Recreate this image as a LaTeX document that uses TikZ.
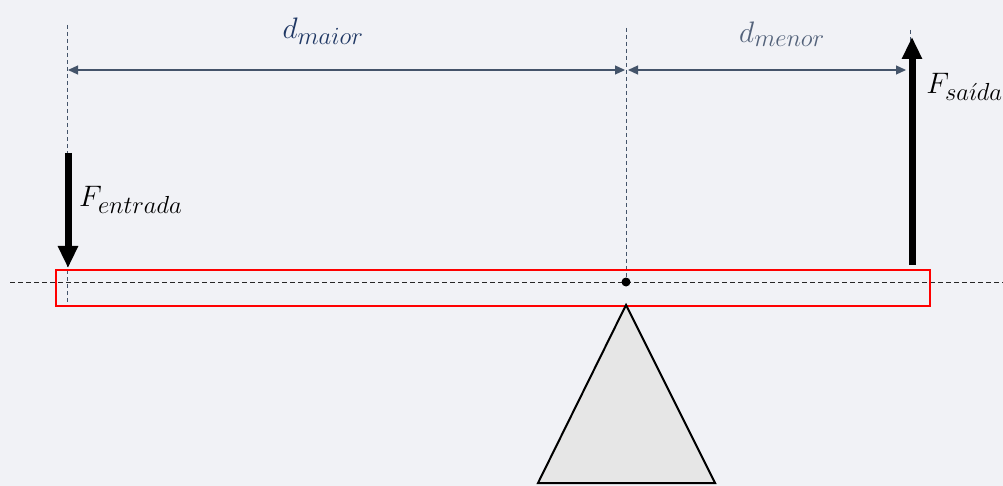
\documentclass[tikz,border=0pt]{standalone}
\usetikzlibrary{arrows.meta}
\definecolor{bg}{HTML}{F1F2F6}
\definecolor{dimc}{HTML}{44546A}
\definecolor{lblA}{HTML}{203864}
\definecolor{lblB}{HTML}{53627A}
\definecolor{beamred}{HTML}{FF0000}
\definecolor{baseg}{HTML}{E6E6E6}
\tikzset{
  guide/.style={dash pattern=on 4pt off 3pt, line width=0.8pt, draw=dimc},
  axisline/.style={dash pattern=on 5pt off 3pt, line width=0.9pt, draw=black!85},
  dimarrow/.style={{Triangle[length=10pt,width=9pt]}-{Triangle[length=10pt,width=9pt]}, line width=1.2pt, draw=dimc},
  force/.style={-{Triangle[length=22pt,width=19pt]}, line width=7pt, draw=black},
  lbl/.style={inner sep=0pt, font=\Huge, scale=1.19, transform shape}
}
\begin{document}
\begin{tikzpicture}[x=1pt,y=-1pt]
\fill[bg] (0,0) rectangle (1003,486);
\useasboundingbox (0,0) rectangle (1003,486);
% guide lines
\coordinate (gL1) at (67,25); \coordinate (gL2) at (67,302);
\coordinate (gM1) at (626,28); \coordinate (gM2) at (626,282);
\coordinate (gR1) at (910,30); \coordinate (gR2) at (910,60);
\draw[guide] (gL1) -- (gL2);
\draw[guide] (gM1) -- (gM2);
\draw[guide] (gR1) -- (gR2);
% axis
\coordinate (aL) at (10,282); \coordinate (aR) at (1003,282);
\draw[axisline] (aL) -- (aR);
% beam
\node[draw=beamred, line width=2pt, minimum width=874pt, minimum height=36pt, inner sep=0pt, anchor=north west] (beam) at (55,269) {};
% pivot dot
\node[circle, fill=black, minimum size=9pt, inner sep=0pt] (pivot) at (626,282) {};
% fulcrum
\coordinate (apex) at (626,305);
\coordinate (bl) at (538,483);
\coordinate (br) at (715,483);
\draw[fill=baseg, line width=2pt, line join=miter] (apex) -- (br) -- (bl) -- cycle;
% dimension arrows
\coordinate (dA1) at (68,70); \coordinate (dA2) at (625,70);
\coordinate (dB1) at (628,70); \coordinate (dB2) at (906,70);
\draw[dimarrow] (dA1) -- (dA2);
\draw[dimarrow] (dB1) -- (dB2);
\node[lbl, text=lblA] (dmaior) at (323,31) {$d_{maior}$};
\node[lbl, text=lblB] (dmenor) at (782,34) {$d_{menor}$};
% forces
\coordinate (fe1) at (68,153); \coordinate (fe2) at (68,268);
\coordinate (fs1) at (912,265); \coordinate (fs2) at (912,37);
\draw[force] (fe1) -- (fe2);
\draw[force] (fs1) -- (fs2);
\node[lbl, anchor=west] (Fe) at (79,200) {$F_{entrada}$};
\node[lbl, anchor=west] (Fs) at (926,87) {$F_{sa\acute{\imath}da}$};
\end{tikzpicture}
\end{document}
